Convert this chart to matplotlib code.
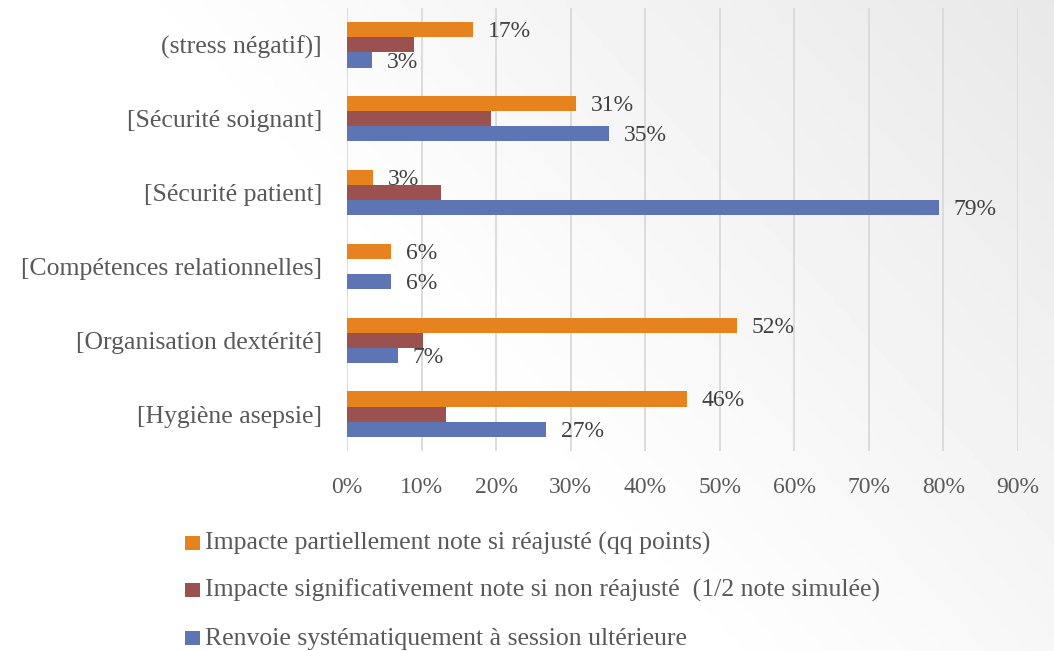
import matplotlib
matplotlib.use("Agg")
import matplotlib.pyplot as plt
import numpy as np
from matplotlib.patches import Rectangle
from matplotlib import transforms

categories = ["[Hygiène asepsie]", "[Organisation dextérité]", "[Compétences relationnelles]",
              "[Sécurité patient]", "[Sécurité soignant]", "(stress négatif)]"]
series_names = ["Impacte partiellement note si réajusté (qq points)",
                "Impacte significativement note si non réajusté  (1/2 note simulée)",
                "Renvoie systématiquement à session ultérieure"]
partiel = [45.6, 52.3, 5.9, 3.5, 30.7, 16.9]
significatif = [13.3, 10.2, 0.0, 12.6, 19.3, 9.0]
renvoie = [26.7, 6.8, 5.9, 79.4, 35.1, 3.4]
label_partiel = ["46%", "52%", "6%", "3%", "31%", "17%"]
label_renvoie = ["27%", "7%", "6%", "79%", "35%", "3%"]
xticks = [0, 10, 20, 30, 40, 50, 60, 70, 80, 90]

colors = ["#E6831F", "#9C5151", "#5E75B3"]
text_color = "#404040"
tick_color = "#595959"
font = "Liberation Serif"
fs_num = 17
fs_txt = 18.5

W, H = 1054, 651
fig = plt.figure(figsize=(W / 100, H / 100), dpi=100)

# background gradient
bg = fig.add_axes([0, 0, 1, 1], zorder=-10)
xx, yy = np.meshgrid(np.linspace(0, 1, 300), np.linspace(0, 1, 200))
g = np.clip((xx * 0.9 + (1 - yy) * 0.5 - 0.6) / 0.8, 0, 1)
img = 1 - 0.09 * g
bg.imshow(img, cmap="gray", vmin=0, vmax=1, aspect="auto", extent=[0, 1, 0, 1], origin="upper")
bg.axis("off")

left, right, top, bottom = 347, 1018, 8, 451
ax = fig.add_axes([left / W, 1 - bottom / H, (right - left) / W, (bottom - top) / H])
ax.patch.set_alpha(0)

y = np.arange(len(categories))
h = 0.205
ax.barh(y + h, partiel, height=h, color=colors[0], zorder=3)
ax.barh(y, significatif, height=h, color=colors[1], zorder=3)
ax.barh(y - h, renvoie, height=h, color=colors[2], zorder=3)

off = transforms.offset_copy(ax.transData, fig=fig, x=15, y=-2, units="dots")
for i in range(len(categories)):
    ax.text(partiel[i], y[i] + h, label_partiel[i], transform=off, va="center", ha="left",
            fontsize=fs_num, color=text_color, family=font, zorder=4)
    ax.text(renvoie[i], y[i] - h, label_renvoie[i], transform=off, va="center", ha="left",
            fontsize=fs_num, color=text_color, family=font, zorder=4)

ax.set_xlim(0, 90)
ax.set_ylim(-0.5, len(categories) - 0.5)
ax.set_xticks(xticks)
ax.set_xticklabels([f"{t}%" for t in xticks], fontsize=fs_num, color=tick_color, family=font)
ax.set_yticks(y)
ax.set_yticklabels(categories, fontsize=fs_txt, color=tick_color, family=font)
ax.tick_params(axis="both", length=0)
ax.tick_params(axis="x", pad=19)
ax.tick_params(axis="y", pad=18)
ax.grid(axis="x", color="#D9D9D9", linewidth=1.3, zorder=0)
for s in ax.spines.values():
    s.set_visible(False)

# legend (manual, one entry per row)
leg_base = [550, 597, 645]
for name, c, ly in zip(series_names, colors, leg_base):
    fig.patches.append(Rectangle((185 / W, 1 - ly / H), 15 / W, 14 / H,
                                 transform=fig.transFigure, facecolor=c, edgecolor="none"))
    fig.text(205 / W, 1 - ly / H, name, va="baseline", ha="left", fontsize=fs_txt,
             color=tick_color, family=font)

fig.savefig("out.png", dpi=100)
